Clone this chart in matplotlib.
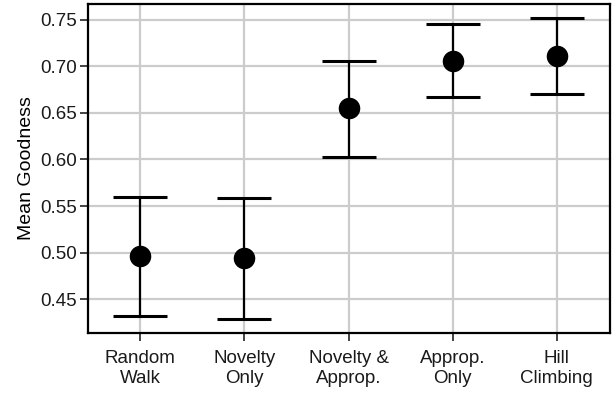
import numpy as np
import matplotlib
matplotlib.use("Agg")
from matplotlib import pyplot as plt

# data
labels = ["Random\nWalk", "Novelty\nOnly", "Novelty &\nApprop.", "Approp.\nOnly", "Hill\nClimbing"]
means = [0.496, 0.494, 0.655, 0.706, 0.711]
upper = [0.560, 0.559, 0.706, 0.745, 0.752]
lower = [0.432, 0.429, 0.603, 0.667, 0.670]

plt.rcParams['font.family'] = ['Liberation Sans', 'DejaVu Sans']

fig = plt.figure(figsize=(6.13, 3.93), dpi=100)
ax = fig.add_axes([0.144, 0.153, 0.851, 0.837])

x = np.arange(len(labels))
m = np.array(means)
err = np.vstack([m - np.array(lower), np.array(upper) - m])
ax.errorbar(x, m, yerr=err, fmt='o', color='black', markersize=14.5,
            elinewidth=1.6, capsize=19.5, capthick=2.2, zorder=3)

ax.set_xlim(-0.5, 4.51)
ax.set_ylim(0.4138, 0.767)
ax.set_xticks(x)
ax.set_xticklabels(labels, fontsize=13.5, linespacing=1.2)
ax.set_yticks([0.45, 0.50, 0.55, 0.60, 0.65, 0.70, 0.75])
ax.set_yticklabels(["0.45", "0.50", "0.55", "0.60", "0.65", "0.70", "0.75"], fontsize=13.5)
ax.set_ylabel("Mean Goodness", fontsize=14, labelpad=4)
ax.grid(True, color='#cccccc', linewidth=1.6, zorder=0)
ax.set_axisbelow(True)
for s in ax.spines.values():
    s.set_linewidth(1.6)
ax.tick_params(direction='out', length=5.5, width=1.2, pad=2.5, colors='#222222', labelcolor='#1a1a1a')
ax.tick_params(axis='x', pad=7)

fig.savefig("out.png", dpi=100)
